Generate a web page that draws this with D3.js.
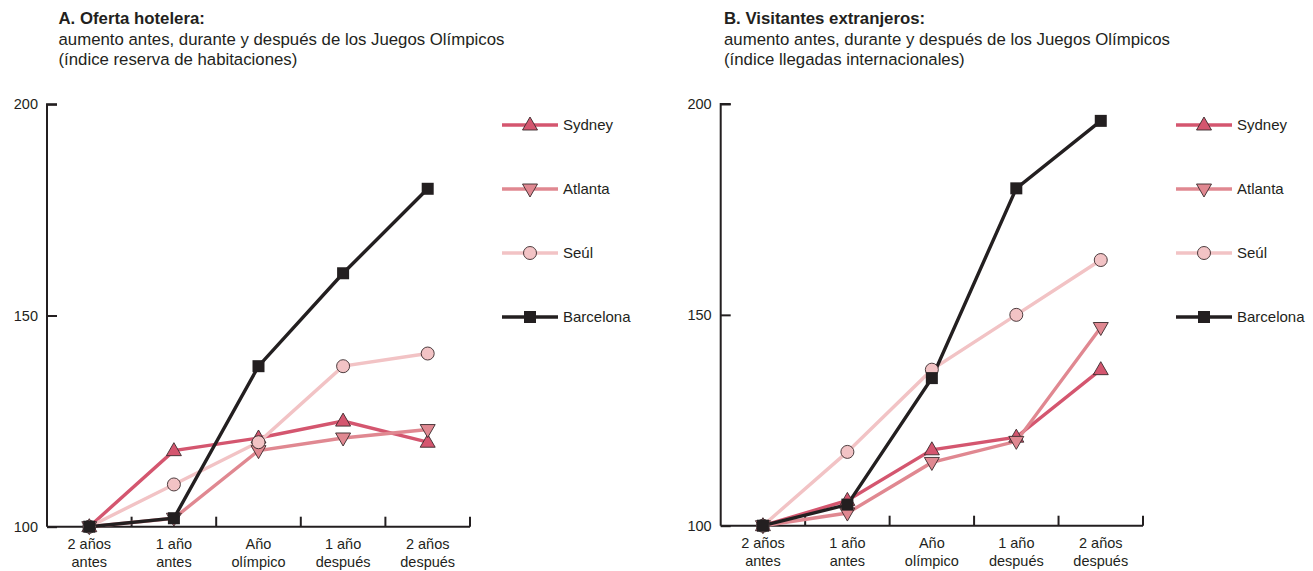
<!DOCTYPE html>
<html><head><meta charset="utf-8">
<script src="https://cdn.jsdelivr.net/npm/d3@7"></script>
<style>
body{margin:0;background:#fff;font-family:"Liberation Sans",Arial,sans-serif;}
svg text{font-family:"Liberation Sans",Arial,sans-serif;fill:#231f20;}
</style></head><body>
<svg id="c" width="1313" height="571"></svg>
<script>
const categories = ["2 años|antes","1 año|antes","Año|olímpico","1 año|después","2 años|después"];
const seriesNames = ["Sydney","Atlanta","Seúl","Barcelona"];
const yTicks = [100,150,200];

// Panel A: Oferta hotelera
const hotelSydney    = [100,118,121,125,120];
const hotelAtlanta   = [100,102,118,121,123];
const hotelSeul      = [100,110,120,138,141];
const hotelBarcelona = [100,102,138,160,180];

// Panel B: Visitantes extranjeros
const visitSydney    = [100,106,118,121,137];
const visitAtlanta   = [100,103,115,120,147];
const visitSeul      = [100,117.5,137,150,163];
const visitBarcelona = [100,105,135,180,196];

const titlesA = ["A. Oferta hotelera:","aumento antes, durante y después de los Juegos Olímpicos","(índice reserva de habitaciones)"];
const titlesB = ["B. Visitantes extranjeros:","aumento antes, durante y después de los Juegos Olímpicos","(índice llegadas internacionales)"];

const styles = {
  "Sydney":   {color:"#d4566f", fill:"#d4566f", sym:"up"},
  "Atlanta":  {color:"#e08891", fill:"#e08891", sym:"down"},
  "Seúl":     {color:"#f2c3c5", fill:"#f2c3c5", sym:"circle"},
  "Barcelona":{color:"#231f20", fill:"#231f20", sym:"square"}
};

const svg = d3.select("#c");

function marker(g, sym, x, y, st){
  if(sym==="up"){
    g.append("path").attr("d",`M${x},${y-8}L${x+7.5},${y+5}L${x-7.5},${y+5}Z`)
     .attr("fill",st.fill).attr("stroke","#3a2a2c").attr("stroke-width",0.9);
  } else if(sym==="down"){
    g.append("path").attr("d",`M${x},${y+8}L${x+7.5},${y-5}L${x-7.5},${y-5}Z`)
     .attr("fill",st.fill).attr("stroke","#3a2a2c").attr("stroke-width",0.9);
  } else if(sym==="circle"){
    g.append("circle").attr("cx",x).attr("cy",y).attr("r",6.5)
     .attr("fill",st.fill).attr("stroke","#3a2a2c").attr("stroke-width",0.9);
  } else {
    g.append("rect").attr("x",x-6).attr("y",y-6).attr("width",12).attr("height",12)
     .attr("fill",st.fill);
  }
}

function panel(opt){
  const g = svg.append("g");
  opt.titles.forEach((t,i)=>{
    g.append("text").attr("x",opt.tx).attr("y",24+i*20.5)
      .style("font-size","16.8px").style("font-weight",i===0?"bold":"normal").text(t);
  });
  const x = d3.scaleBand().domain(categories).range([opt.x0,opt.x1]);
  const y = d3.scaleLinear().domain([100,200]).range([opt.yb,opt.yt]);
  const ya = g.append("g").attr("transform",`translate(${opt.x0},0)`)
    .call(d3.axisRight(y).tickValues(yTicks).tickSize(10).tickFormat(""));
  ya.select(".domain").attr("d",`M${10},${opt.yt}H0V${opt.yb}`).attr("stroke","#231f20").attr("stroke-width",2);
  ya.selectAll(".tick line").attr("stroke","#231f20").attr("stroke-width",2);
  yTicks.forEach(v=>{
    g.append("text").attr("x",opt.x0-9).attr("y",y(v)+5).attr("text-anchor","end")
      .style("font-size","14.5px").text(v);
  });
  const bounds = categories.map(c=>x(c)+x.bandwidth());
  g.append("line").attr("x1",opt.x0).attr("x2",opt.x1).attr("y1",opt.yb).attr("y2",opt.yb)
    .attr("stroke","#231f20").attr("stroke-width",2);
  bounds.forEach(b=>{
    g.append("line").attr("x1",b).attr("x2",b).attr("y1",opt.yb).attr("y2",opt.yb-10)
      .attr("stroke","#231f20").attr("stroke-width",2);
  });
  categories.forEach(c=>{
    const parts = c.split("|");
    const t = g.append("text").attr("text-anchor","middle").style("font-size","14.5px");
    parts.forEach((p,i)=>t.append("tspan").attr("x",x(c)+x.bandwidth()/2).attr("y",opt.yb+22+i*18).text(p));
  });
  const line = d3.line().x((d,i)=>x(categories[i])+x.bandwidth()/2).y(d=>y(d));
  const order = ["Sydney","Atlanta","Seúl","Barcelona"];
  order.forEach(name=>{
    const st = styles[name];
    g.append("path").datum(opt.data[name]).attr("d",line).attr("fill","none")
      .attr("stroke",st.color).attr("stroke-width",3.4).attr("stroke-linejoin","miter");
  });
  order.forEach(name=>{
    const st = styles[name];
    opt.data[name].forEach((v,i)=>{
      marker(g, st.sym, x(categories[i])+x.bandwidth()/2, y(v), st);
    });
  });
  seriesNames.forEach((name,i)=>{
    const st = styles[name];
    const ly = 125+i*64;
    g.append("line").attr("x1",opt.lx).attr("x2",opt.lx+56).attr("y1",ly).attr("y2",ly)
      .attr("stroke",st.color).attr("stroke-width",3.4);
    marker(g, st.sym, opt.lx+28, ly, st);
    g.append("text").attr("x",opt.lx+61).attr("y",ly+5).style("font-size","15px").text(name);
  });
}

panel({titles:titlesA, tx:58.5, x0:47, x1:470, yt:104.3, yb:526.7, lx:502,
  data:{"Sydney":hotelSydney,"Atlanta":hotelAtlanta,"Seúl":hotelSeul,"Barcelona":hotelBarcelona}});
panel({titles:titlesB, tx:724, x0:720.7, x1:1143, yt:104, yb:525.7, lx:1176,
  data:{"Sydney":visitSydney,"Atlanta":visitAtlanta,"Seúl":visitSeul,"Barcelona":visitBarcelona}});
</script></body></html>
